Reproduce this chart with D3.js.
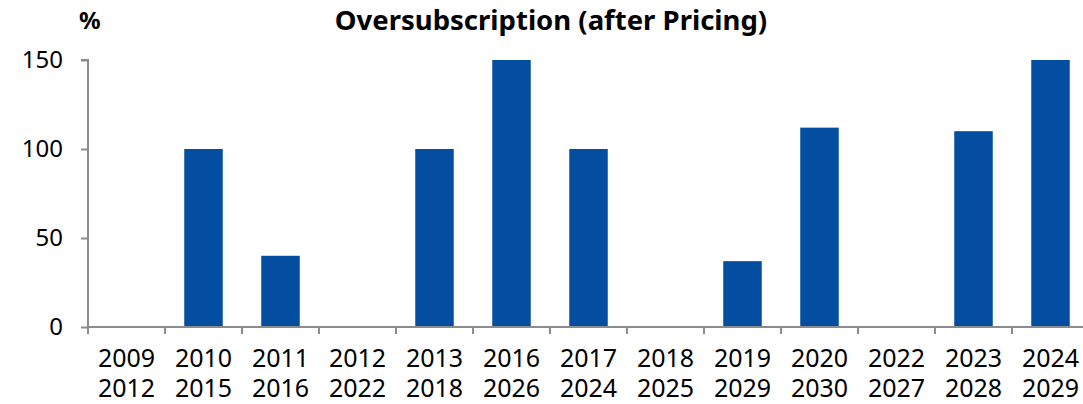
<!DOCTYPE html>
<html><head><meta charset="utf-8">
<script src="https://cdn.jsdelivr.net/npm/d3@7/dist/d3.min.js"></script>
<style>body{margin:0;background:#fff;overflow:hidden}svg{display:block}text{font-family:"Noto Sans",sans-serif;fill:#000}</style>
</head><body><svg id="c" width="1083" height="404"></svg>
<script>
const categoriesTop = ["2009","2010","2011","2012","2013","2016","2017","2018","2019","2020","2022","2023","2024"];
const categoriesBottom = ["2012","2015","2016","2022","2018","2026","2024","2025","2029","2030","2027","2028","2029"];
const values = [0,100,40,0,100,150,100,0,37,112,0,110,150];
const yTicks = [0,50,100,150];
const title = "Oversubscription (after Pricing)";
const unit = "%";

const svg = d3.select("#c");
const mLeft = 88, mTop = 60, mBottom = 327, step = 77;
const x = d3.scaleBand().domain(d3.range(categoriesTop.length)).range([mLeft, mLeft + step*categoriesTop.length]).paddingInner(0.5).paddingOuter(0.25);
const y = d3.scaleLinear().domain([0,150]).range([mBottom, mTop]);

svg.selectAll("rect.bar").data(values).enter().append("rect")
  .attr("class","bar")
  .attr("x",(d,i)=>x(i)).attr("width",x.bandwidth())
  .attr("y",d=>y(d)).attr("height",d=>y(0)-y(d))
  .attr("fill","#044ea2");

const gy = svg.append("g").attr("transform",`translate(${mLeft},0)`)
  .call(d3.axisLeft(y).tickValues(yTicks).tickSize(7).tickPadding(18).tickFormat(d3.format("d")));
gy.select(".domain").attr("stroke","#8c8c8c").attr("stroke-width",2).attr("d",`M-7,${mTop}H0V${mBottom}`);
gy.selectAll(".tick line").attr("stroke","#8c8c8c").attr("stroke-width",2);
gy.selectAll(".tick text").attr("font-size",24).attr("font-family","Noto Sans").attr("fill","#000");

// x axis
const xEnd = mLeft + step*categoriesTop.length;
svg.append("line").attr("x1",mLeft).attr("x2",xEnd).attr("y1",mBottom).attr("y2",mBottom).attr("stroke","#8c8c8c").attr("stroke-width",2);
const bounds = d3.range(categoriesTop.length).map(i=>x(i)-x.step()*x.paddingInner()/2);
svg.selectAll("line.xt").data(bounds).enter().append("line").attr("class","xt")
  .attr("x1",d=>d).attr("x2",d=>d).attr("y1",mBottom).attr("y2",mBottom+7)
  .attr("stroke","#8c8c8c").attr("stroke-width",2);
const lab = svg.selectAll("text.xl").data(categoriesTop).enter().append("text").attr("class","xl")
  .attr("x",(d,i)=>x(i)+x.bandwidth()/2).attr("text-anchor","middle").attr("font-size",25);
lab.append("tspan").attr("x",(d,i)=>x(i)+x.bandwidth()/2).attr("y",367).text(d=>d);
lab.append("tspan").attr("x",(d,i)=>x(i)+x.bandwidth()/2).attr("y",397).text((d,i)=>categoriesBottom[i]);

svg.append("text").attr("x",551).attr("y",30).attr("text-anchor","middle").attr("font-size",27.5).attr("font-weight","bold").text(title);
svg.append("text").attr("x",79).attr("y",29).attr("font-size",24).attr("font-weight","bold").text(unit);
</script></body></html>
